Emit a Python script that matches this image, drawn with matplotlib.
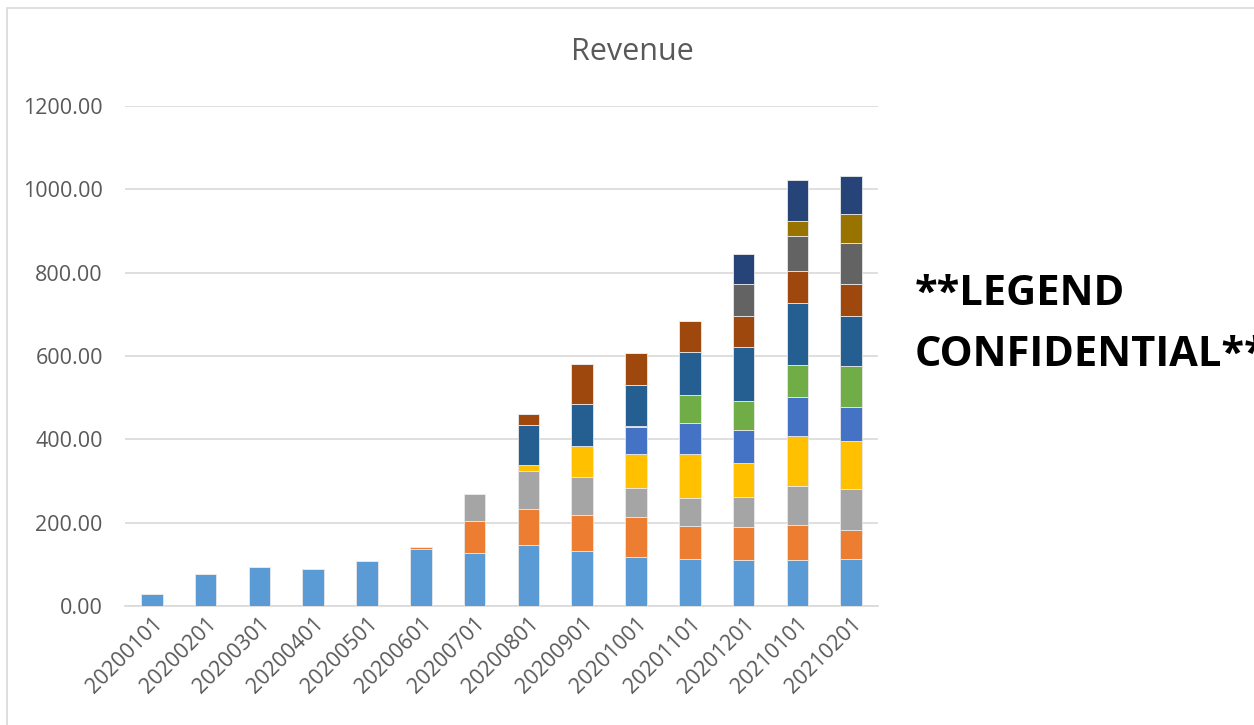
import numpy as np
import matplotlib.pyplot as plt
from matplotlib.patches import Rectangle

# Monthly revenue, stacked by (confidential) legend item
months = ["20200101", "20200201", "20200301", "20200401", "20200501", "20200601", "20200701",
          "20200801", "20200901", "20201001", "20201101", "20201201", "20210101", "20210201"]

s1 = [30, 76, 94, 89, 108, 138, 127, 146, 133, 118, 114, 110, 110, 112]
s2 = [0, 0, 0, 0, 0, 3, 78, 88, 86, 96, 79, 79, 84, 70]
s3 = [0, 0, 0, 0, 0, 0, 65, 89, 91, 69, 66, 72, 94, 99]
s4 = [0, 0, 0, 0, 0, 0, 0, 15, 75, 81, 106, 82, 119, 116]
s5 = [0, 0, 0, 0, 0, 0, 0, 0, 0, 65, 75, 79, 95, 80]
s6 = [0, 0, 0, 0, 0, 0, 0, 0, 0, 3, 66, 71, 76, 98]
s7 = [0, 0, 0, 0, 0, 0, 0, 96, 101, 98, 104, 128, 150, 122]
s8 = [0, 0, 0, 0, 0, 0, 0, 27, 94, 78, 73, 74, 76, 77]
s9 = [0, 0, 0, 0, 0, 0, 0, 0, 0, 0, 0, 78, 85, 97]
s10 = [0, 0, 0, 0, 0, 0, 0, 0, 0, 0, 0, 0, 35, 70]
s11 = [0, 0, 0, 0, 0, 0, 0, 0, 0, 0, 0, 71, 98, 90]

series = [s1, s2, s3, s4, s5, s6, s7, s8, s9, s10, s11]
colores = ["#5B9BD5", "#ED7D31", "#A5A5A5", "#FFC000", "#4472C4", "#70AD47",
           "#255E91", "#9E480E", "#636363", "#997300", "#264478"]

fig = plt.figure(figsize=(12.54, 7.25), dpi=100)
ax = fig.add_axes([125 / 1254, 1 - 606 / 725, (878 - 125) / 1254, 500 / 725])

x = np.arange(len(months))
bottom = np.zeros(len(months))
for vals, c in zip(series, colores):
    vals = np.array(vals, dtype=float)
    ax.bar(x, vals, 0.4, bottom=bottom, color=c, edgecolor="#E8E8E8", linewidth=0.6, zorder=3)
    bottom += vals

# Ejes y rejilla
ax.set_xlim(-0.5, len(months) - 0.5)
ax.set_ylim(0, 1200)
ax.set_yticks(np.arange(0, 1201, 200))
ax.set_yticklabels([f"{v:.2f}" for v in np.arange(0, 1201, 200)])
ax.yaxis.grid(True, color="#D9D9D9", linewidth=1.2, zorder=0)
for s in ["top", "right", "left"]:
    ax.spines[s].set_visible(False)
ax.spines["bottom"].set_color("#D9D9D9")
ax.spines["bottom"].set_linewidth(1.2)
ax.tick_params(axis="both", length=0, colors="#595959", labelsize=15.5)
ax.tick_params(axis="y", pad=16)
ax.tick_params(axis="x", pad=5)
ax.set_xticks(x)
ax.set_xticklabels(months, rotation=45, ha="right", rotation_mode="anchor")
for lbl in ax.get_xticklabels() + ax.get_yticklabels():
    lbl.set_fontfamily("Open Sans")

fig.text(632 / 1254, 1 - 52 / 725, "Revenue", ha="center", va="center",
         fontsize=22, color="#595959", family="Open Sans")

fig.text(915 / 1254, 1 - 325 / 725, "**LEGEND\nCONFIDENTIAL**", ha="left", va="center",
         fontsize=30, fontweight="bold", color="black", family="Open Sans", linespacing=1.65)

# Borde del área del gráfico
fig.patches.append(Rectangle((7 / 1254, -0.1), 1.2, 1 - 8 / 725 + 0.1, transform=fig.transFigure,
                             fill=False, edgecolor="#D9D9D9", linewidth=1.2))

fig.savefig("out.png", dpi=100)
